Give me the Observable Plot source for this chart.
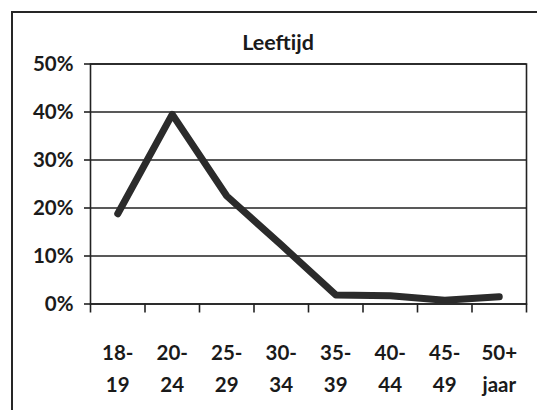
<!DOCTYPE html>
<html>
<head>
<meta charset="utf-8">
<script src="https://cdn.jsdelivr.net/npm/d3@7"></script>
<script src="https://cdn.jsdelivr.net/npm/@observablehq/plot@0.6"></script>
<style>
  html, body { margin: 0; padding: 0; background: #fff; overflow: hidden; }
  #wrap { position: relative; width: 537px; height: 410px; overflow: hidden; background: #fff; }
  #frame { position: absolute; left: 11px; top: 11px; width: 600px; height: 600px; border: 2px solid #262626; box-sizing: border-box; }
  #title { position: absolute; left: 0; width: 556px; top: 29px; text-align: center; font-family: Lato, sans-serif; font-weight: bold; font-size: 21.5px; line-height: normal; color: #1a1a1a; }
  #chart { position: absolute; left: 0; top: 0; }
</style>
</head>
<body>
<div id="wrap">
  <div id="frame"></div>
  <div id="title">Leeftijd</div>
  <div id="chart"></div>
</div>
<script>
const categories = ["18-\n19", "20-\n24", "25-\n29", "30-\n34", "35-\n39", "40-\n44", "45-\n49", "50+\njaar"];
const shares = [18.8, 39.5, 22.5, 12.3, 1.9, 1.7, 0.8, 1.5];
const yTicks = [0, 10, 20, 30, 40, 50];

const data = categories.map((label, i) => ({ i, label, share: shares[i] }));
const centers = data.map(d => d.i);
const boundaries = [...centers.map(i => i - 0.5), categories.length - 0.5];

const ink = "#222";

const chart = Plot.plot({
  width: 537,
  height: 410,
  marginLeft: 90,
  marginRight: 11,
  marginTop: 63.5,
  marginBottom: 106.5,
  style: { fontFamily: "Lato, sans-serif", background: "transparent", color: "#1a1a1a" },
  x: { type: "linear", domain: [-0.5, categories.length - 0.5] },
  y: { domain: [0, 50] },
  marks: [
    Plot.ruleY(yTicks, { stroke: ink, strokeWidth: 1.6 }),
    Plot.frame({ stroke: ink, strokeWidth: 1.6 }),
    Plot.axisY(yTicks, {
      tickSize: 6, tickPadding: 11, tickFormat: d => d + "%",
      fontSize: 20.5, fontWeight: "bold", stroke: ink, strokeWidth: 1.6, label: null
    }),
    Plot.axisX(boundaries, {
      tickSize: 9, tickFormat: () => "", stroke: ink, strokeWidth: 1.6, label: null
    }),
    Plot.text(data, {
      x: "i", text: "label", frameAnchor: "bottom", dy: 33,
      lineAnchor: "top", lineHeight: 1.58, fontSize: 20.5, fontWeight: "bold", fill: "#1a1a1a"
    }),
    Plot.line(data, {
      x: "i", y: "share", stroke: "#2b2b2b", strokeWidth: 7,
      strokeLinecap: "round", strokeLinejoin: "round"
    })
  ]
});
document.getElementById("chart").appendChild(chart);
</script>
</body>
</html>
